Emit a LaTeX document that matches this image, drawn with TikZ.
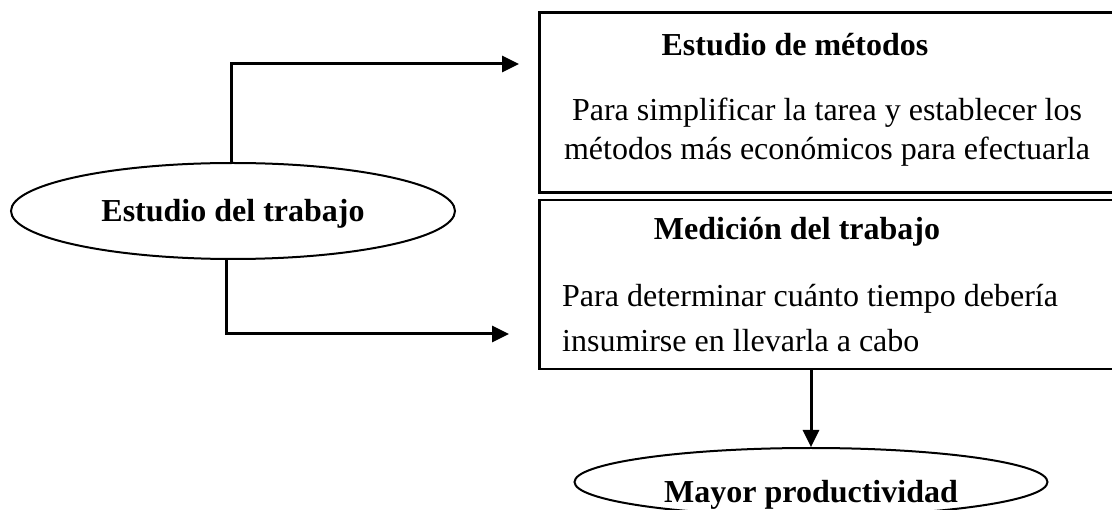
\documentclass[tikz,border=0pt]{standalone}
\usepackage{fontspec}
\setmainfont{Liberation Serif}
\usetikzlibrary{shapes.geometric, arrows.meta, positioning}

\begin{document}
\begin{tikzpicture}[x=1pt, y=-1pt, font=\fontsize{32}{40}\selectfont]
    \tikzstyle{oval} = [ellipse, draw, line width=2pt, inner sep=0pt, text depth=0pt, font=\fontsize{32}{40}\selectfont\bfseries]
    \tikzstyle{panel} = [rectangle, draw, line width=2.5pt, inner sep=0pt]
    \tikzstyle{heading} = [anchor=base, inner sep=0pt, font=\fontsize{32}{40}\selectfont\bfseries]
    \tikzstyle{body} = [anchor=base, inner sep=0pt]
    \tikzstyle{arrow} = [line width=3pt, -{Triangle[length=17pt, width=16pt]}]

    \clip (0,0) rectangle (1112,510);

    % Ellipses
    \node [oval, minimum width=444pt, minimum height=96pt, text height=22pt] (trabajo) at (233,211) {Estudio del trabajo};
    \node [oval, minimum width=473pt, minimum height=68pt, text height=42pt] (prod) at (811,482) {Mayor productividad};

    % Boxes
    \node [panel, minimum width=586pt, minimum height=180pt] (metodos) at (832.5,102.5) {};
    \node [panel, minimum width=586pt, minimum height=169pt] (medicion) at (832.5,284.5) {};

    % Box texts
    \node [heading] (metodosTit) at (795,56) {Estudio de métodos};
    \node [body] (metodosA) at (827,121) {Para simplificar la tarea y establecer los};
    \node [body] (metodosB) at (827,160) {métodos más económicos para efectuarla};

    \node [heading] (medicionTit) at (797,240) {Medición del trabajo};
    \node [body, anchor=base west] (medicionA) at (562,307) {Para determinar cuánto tiempo debería};
    \node [body, anchor=base west] (medicionB) at (562,352) {insumirse en llevarla a cabo};

    % Arrow ends
    \coordinate (metodosIn) at (519,64);
    \coordinate (medicionIn) at (509,334);

    % Connections
    \draw [arrow] ([xshift=-2pt]trabajo.north) |- (metodosIn);
    \draw [arrow] ([xshift=-7pt]trabajo.south) |- (medicionIn);
    \draw [arrow] (medicion.south -| prod.north) -- (prod.north);
\end{tikzpicture}
\end{document}
